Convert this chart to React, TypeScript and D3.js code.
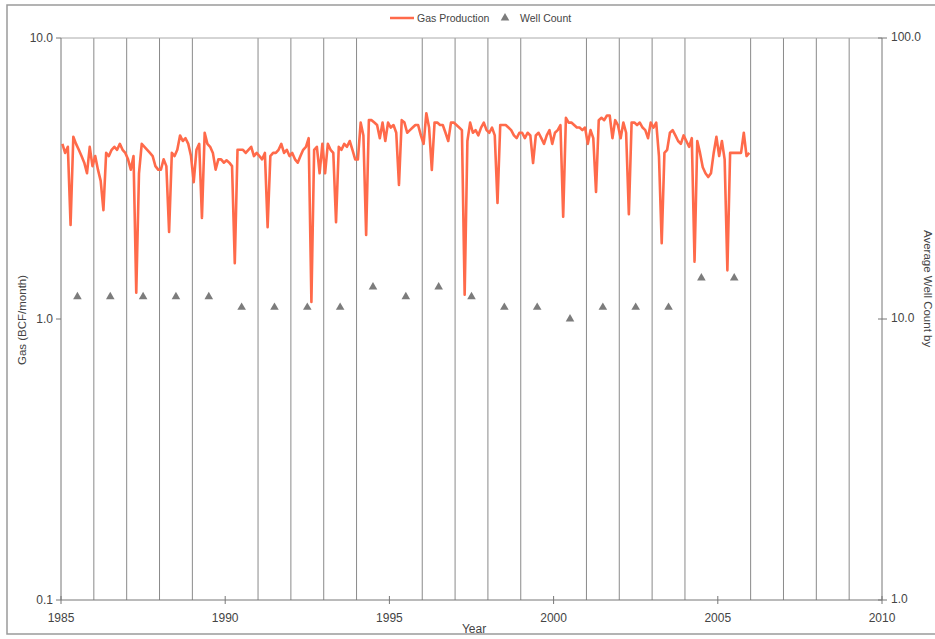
import * as d3 from 'd3';
import React from 'react';

// monthly gas production (BCF/month), Jan 1985 .. Dec 2005
const gasStart = 1985;
const gasProduction = [
  4.2, 3.9, 4.1, 2.16, 4.45, 4.2, 4.0, 3.8, 3.6, 3.3, 4.1, 3.5, // 1985
  3.8, 3.4, 3.1, 2.44, 3.9, 3.8, 4.0, 4.1, 4.0, 4.2, 4.0, 3.9, // 1986
  3.7, 3.4, 3.8, 1.24, 3.3, 4.2, 4.1, 4.0, 3.9, 3.8, 3.5, 3.4, // 1987
  3.4, 3.7, 3.5, 2.04, 3.9, 3.8, 4.0, 4.5, 4.3, 4.4, 4.2, 3.8, // 1988
  3.07, 4.0, 4.2, 2.29, 4.6, 4.2, 4.1, 3.9, 3.4, 3.7, 3.7, 3.6, // 1989
  3.67, 3.6, 3.5, 1.58, 4.0, 4.0, 4.0, 3.9, 4.0, 4.1, 3.8, 3.9, // 1990
  3.8, 3.7, 3.9, 2.12, 3.8, 3.9, 3.9, 4.0, 4.2, 3.9, 4.0, 3.8, // 1991
  3.9, 3.7, 3.6, 3.8, 4.0, 4.1, 4.4, 1.15, 4.0, 4.1, 3.3, 4.2, // 1992
  3.3, 4.2, 4.0, 3.9, 2.21, 4.1, 4.0, 4.2, 4.1, 4.3, 4.0, 3.7, // 1993
  3.7, 5.0, 4.5, 1.99, 5.1, 5.1, 5.0, 4.9, 4.4, 5.0, 4.3, 5.0, // 1994
  4.8, 4.9, 4.6, 3.0, 5.1, 5.0, 4.6, 4.7, 4.8, 4.9, 4.9, 4.5, // 1995
  4.2, 5.4, 4.8, 3.39, 5.0, 5.0, 4.9, 4.9, 4.6, 4.3, 5.0, 5.0, // 1996
  4.9, 4.8, 4.7, 1.22, 4.3, 5.0, 4.6, 4.7, 4.5, 4.8, 5.0, 4.7, // 1997
  4.6, 4.8, 4.5, 2.59, 4.9, 4.9, 4.9, 4.8, 4.7, 4.5, 4.4, 4.6, // 1998
  4.6, 4.4, 4.6, 4.5, 3.59, 4.5, 4.6, 4.4, 4.2, 4.5, 4.7, 4.2, // 1999
  4.6, 4.7, 4.9, 2.31, 5.2, 5.0, 5.0, 4.9, 4.8, 4.8, 4.7, 4.8, // 2000
  4.2, 4.7, 4.4, 2.83, 5.1, 5.2, 5.1, 5.3, 5.3, 4.4, 5.1, 4.9, // 2001
  4.4, 5.0, 4.6, 2.36, 5.0, 5.0, 4.9, 5.0, 4.8, 4.7, 4.4, 5.0, // 2002
  4.8, 5.0, 3.8, 1.86, 3.9, 4.0, 4.6, 4.7, 4.5, 4.3, 4.2, 4.5, // 2003
  4.3, 4.1, 4.4, 1.6, 4.3, 3.9, 3.47, 3.3, 3.2, 3.3, 3.9, 4.45, // 2004
  3.8, 4.3, 3.7, 1.49, 3.9, 3.9, 3.9, 3.9, 3.9, 4.6, 3.8, 3.9, // 2005
];

// average well count, plotted mid-year
const wellYears = [1985, 1986, 1987, 1988, 1989, 1990, 1991, 1992, 1993, 1994, 1995,
  1996, 1997, 1998, 1999, 2000, 2001, 2002, 2003, 2004, 2005];
const wellCount = [12, 12, 12, 12, 12, 11, 11, 11, 11, 13, 12,
  13, 12, 11, 11, 10, 11, 11, 11, 14, 14];

const yearTicks = [1985, 1990, 1995, 2000, 2005, 2010];
const gasTicks = [0.1, 1, 10];
const wellTicks = [1, 10, 100];

const font = '"Liberation Sans", Arial, sans-serif';
const textColor = '#444';
const gridColor = '#8a8a8a';
const gasColor = '#ff6a4a';
const wellColor = '#7c7c7c';

export default function App() {
  const width = 935, height = 639;
  const left = 61, right = 882, top = 38, bottom = 600;

  const x = d3.scaleLinear().domain([1985, 2010]).range([left, right]);
  const yGas = d3.scaleLog().domain([0.1, 10]).range([bottom, top]);
  const yWell = d3.scaleLog().domain([1, 100]).range([bottom, top]);

  const gasLine = d3.line<number>()
    .x((d, i) => x(gasStart + (i + 0.5) / 12))
    .y((d) => yGas(d));

  const gridYears = d3.range(1986, 2010).filter((yr) => yr % 5 !== 0);
  const tri = d3.symbol().type(d3.symbolTriangle).size(32)();

  return (
    <svg width={width} height={height}
      style={{ position: 'absolute', left: 0, top: 0, background: '#fff' }}
      fontFamily={font}>
      {/* outer frame */}
      <rect x={7} y={5} width={940} height={629} fill="none" stroke="#9a9a9a" strokeWidth={1.5} />

      {/* legend */}
      <g fontSize={10.5} fill={textColor}>
        <line x1={390} x2={414} y1={18} y2={18} stroke={gasColor} strokeWidth={2.5} />
        <text x={417} y={22}>Gas Production</text>
        <path d={tri} transform="translate(505,18)" fill={wellColor} />
        <text x={520} y={22}>Well Count</text>
      </g>

      {/* vertical gridlines */}
      {gridYears.map((yr) => (
        <line key={yr} x1={x(yr)} x2={x(yr)} y1={top} y2={bottom} stroke={gridColor} strokeWidth={1} />
      ))}

      {/* plot box lines */}
      <line x1={left} x2={right} y1={top} y2={top} stroke="#aaa" />
      <line x1={left} x2={right} y1={bottom} y2={bottom} stroke="#777" />
      <line x1={left} x2={left} y1={top} y2={bottom} stroke="#777" />
      <line x1={right} x2={right} y1={top} y2={bottom} stroke="#777" />

      {/* left axis */}
      <g fontSize={12} fill={textColor} textAnchor="end">
        {gasTicks.map((t) => (
          <g key={t}>
            <line x1={left - 5} x2={left} y1={yGas(t)} y2={yGas(t)} stroke="#777" />
            <text x={left - 8} y={yGas(t) + 4}>{t.toFixed(1)}</text>
          </g>
        ))}
      </g>

      {/* right axis */}
      <g fontSize={12} fill={textColor}>
        {wellTicks.map((t) => (
          <g key={t}>
            <line x1={right - 4} x2={right + 5} y1={yWell(t)} y2={yWell(t)} stroke="#777" />
            <text x={right + 9} y={yWell(t) + 3}>{t.toFixed(1)}</text>
          </g>
        ))}
      </g>

      {/* bottom axis */}
      <g fontSize={12} fill={textColor} textAnchor="middle">
        {yearTicks.map((t) => (
          <g key={t}>
            <line x1={x(t)} x2={x(t)} y1={bottom - 4} y2={bottom + 4} stroke="#777" />
            <text x={x(t)} y={bottom + 22}>{t}</text>
          </g>
        ))}
        <text x={474} y={633}>Year</text>
      </g>

      {/* axis titles */}
      <text transform="translate(26,320) rotate(-90)" textAnchor="middle" fontSize={11.5} fill={textColor}>
        Gas (BCF/month)
      </text>
      <text transform="translate(924,230) rotate(90)" textAnchor="start" fontSize={11.5} fill={textColor}>
        Average Well Count by
      </text>

      {/* gas production line */}
      <path d={gasLine(gasProduction) || ''} fill="none" stroke={gasColor} strokeWidth={2.6}
        strokeLinejoin="round" />

      {/* well count markers */}
      {wellCount.map((v, i) => (
        <path key={i} d={tri} transform={`translate(${x(wellYears[i] + 0.5)},${yWell(v)})`} fill={wellColor} />
      ))}
    </svg>
  );
}
